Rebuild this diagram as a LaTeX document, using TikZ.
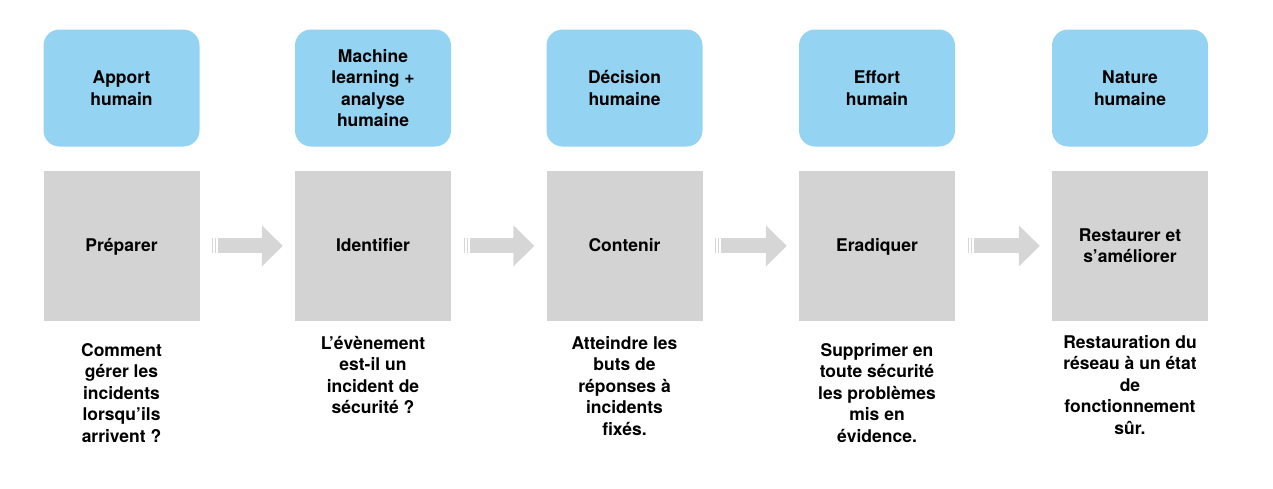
\documentclass[tikz,border=0pt]{standalone}
\usepackage{fontspec}
\setmainfont{TeX Gyre Heros}
\usetikzlibrary{positioning,arrows.meta}
\definecolor{bleuciel}{HTML}{95D3F2}
\definecolor{grisclair}{HTML}{D3D3D3}
\definecolor{grisfleche}{HTML}{D6D6D6}
\begin{document}
\begin{tikzpicture}[x=1pt, y=-1pt,
    police/.style={font=\fontsize{17.5}{21.5}\selectfont\bfseries, align=center,
        execute at begin node=\rule{0pt}{21pt}},
    role/.style={police, fill=bleuciel, rounded corners=16pt, minimum width=156pt, minimum height=117pt, inner sep=0pt},
    etape/.style={police, fill=grisclair, minimum width=156pt, minimum height=150pt, inner sep=0pt},
    etapeseule/.style={etape, text height=16pt, text depth=4pt},
    texte/.style={police, anchor=north, inner sep=0pt},
    fleche/.style={grisfleche, line width=15pt, -{Triangle[length=21pt, width=40pt]}},
    trait/.style={grisfleche, line width=1pt}]
    \useasboundingbox (0,0) rectangle (1273,488);

    % 1. Cases bleues (apport humain)
    \node[role] (role1) at (121.5,88) {Apport\\humain};
    \node[role] (role2) at (373,88) {Machine\\learning +\\analyse\\humaine};
    \node[role] (role3) at (624.5,88) {Décision\\humaine};
    \node[role] (role4) at (877,88) {Effort\\humain};
    \node[role] (role5) at (1130,88) {Nature\\humaine};

    % 2. Cases grises (étapes)
    \node[etapeseule, below=24pt of role1] (prep) {Préparer};
    \node[etapeseule, below=24pt of role2] (ident) {Identifier};
    \node[etapeseule, below=24pt of role3] (cont) {Contenir};
    \node[etapeseule, below=24pt of role4] (erad) {Eradiquer};
    \node[etape, below=24pt of role5] (rest) {Restaurer et\\s’améliorer};

    % 3. Flèches entre les étapes
    \foreach \a/\b in {prep/ident, ident/cont, cont/erad, erad/rest} {
        \draw[trait] ([xshift=13pt]\a.east) ++(0,-7.5) -- ++(0,15);
        \draw[trait] ([xshift=16pt]\a.east) ++(0,-7.5) -- ++(0,15);
        \draw[fleche] ([xshift=18.5pt]\a.east) -- ([xshift=-12pt]\b.west);
    }

    % 4. Textes sous les étapes
    \node[texte, below=22pt of prep] (txt1) {Comment\\gérer les\\incidents\\lorsqu’ils\\arrivent ?};
    \node[texte, below=15pt of ident] (txt2) {L’évènement\\est-il un\\incident de\\sécurité ?};
    \node[texte, below=15pt of cont] (txt3) {Atteindre les\\buts de\\réponses à\\incidents\\fixés.};
    \node[texte, below=22pt of erad] (txt4) {Supprimer en\\toute sécurité\\les problèmes\\mis en\\évidence.};
    \node[texte, below=14pt of rest] (txt5) {Restauration du\\réseau à un état\\de\\fonctionnement\\sûr.};
\end{tikzpicture}
\end{document}
